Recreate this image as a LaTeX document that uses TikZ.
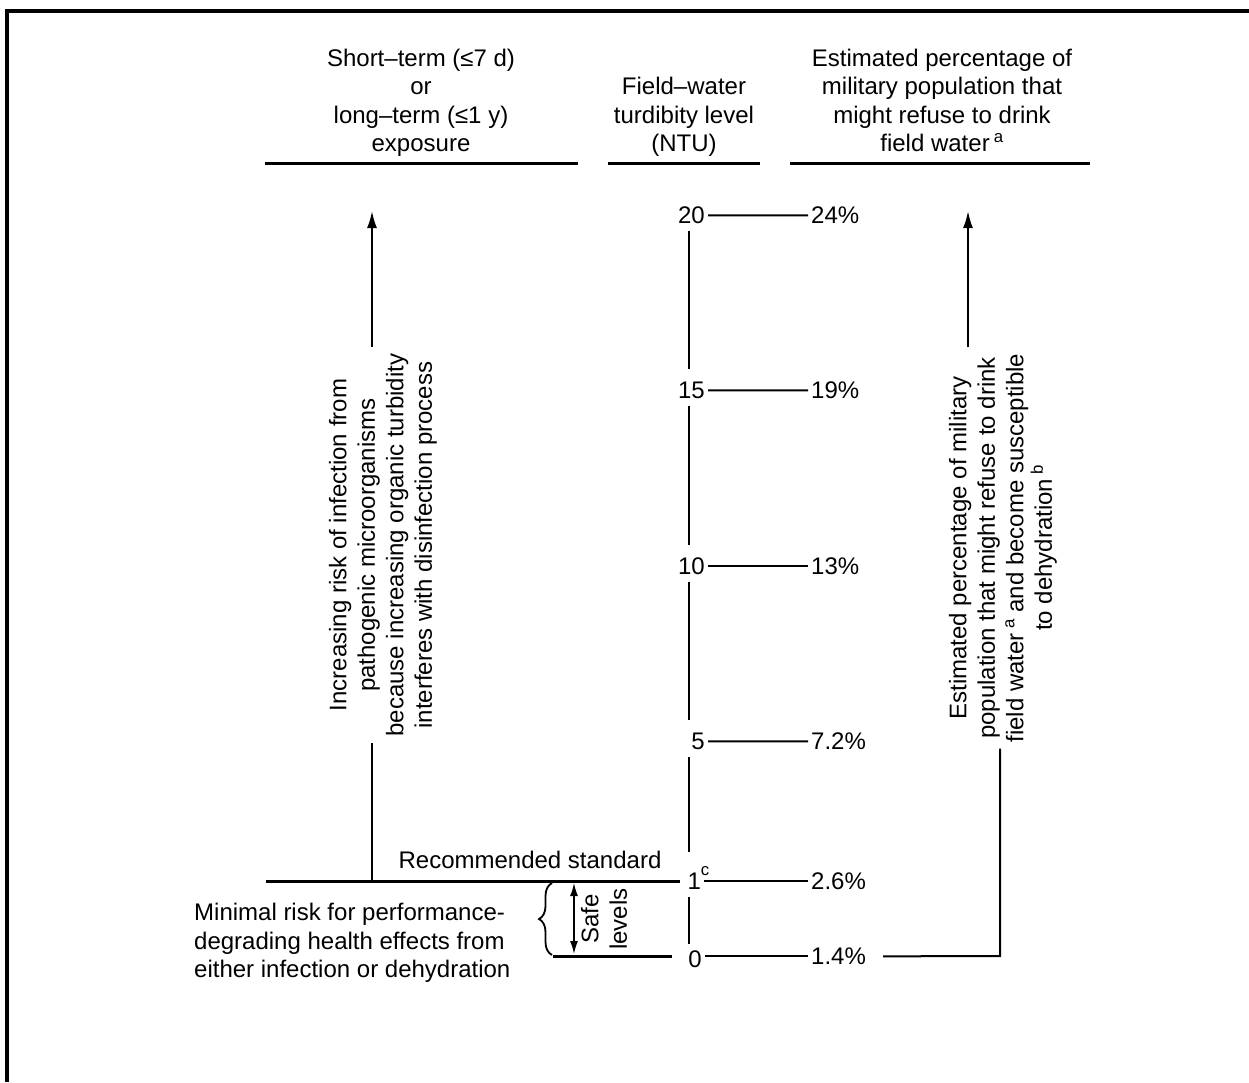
\documentclass[tikz,border=0pt]{standalone}
\usepackage{fontspec}
\setmainfont{Liberation Sans}
\usetikzlibrary{arrows.meta,decorations.pathreplacing,calc}

\begin{document}
\begin{tikzpicture}[x=1pt,y=-1pt,
		every node/.style={inner sep=0pt,font=\fontsize{24}{28.5}\selectfont},
		hdr/.style={align=center,anchor=south,text depth=0pt},
		num/.style={anchor=base east,inner sep=3pt},
		pct/.style={anchor=base west,inner sep=3pt},
		vtxt/.style={align=center,rotate=90,inner sep=6pt},
		line/.style={line width=2pt},
		rule/.style={line width=3pt},
		tip/.style={-{Latex[length=17pt,width=10pt]}}]
		\useasboundingbox (0,0) rectangle (1249,1082);
		\draw[line width=4pt] (7,1082) -- (7,11) -- (1249,11);
		
		\node[hdr] (hexpo) at (421,152) {Short–term (≤7 d)\\or\\long–term (≤1 y)\\exposure};
		\node[hdr] (hntu) at (684,152) {Field–water\\turdibity level\\(NTU)};
		\node[hdr] (hpct) at (942,152) {Estimated percentage of\\military population that\\might refuse to drink\\field water\,\textsuperscript{a}};
		\draw[rule] (265,163) -- (578,163);
		\draw[rule] (608,163) -- (760,163);
		\draw[rule] (790,163) -- (1090,163);
		
		\foreach \v/\y/\p in {20/215/24, 15/390/19, 10/566/13, 5/741/7.2}{
			\node[num] (n\v) at (708,\y+8.6) {\v};
			\node[pct] (p\v) at (808,\y+8.6) {\p\%};
			\draw[line] (n\v.east) -- (p\v.west);
		}
		\node[num] (n1) at (713,889.6) {1\raisebox{5pt}{\textsuperscript{c}}};
		\node[pct] (p1) at (808,889.6) {2.6\%};
		\draw[line] ([xshift=-9pt]n1.east |- p1.west) -- (p1.west);
		\node[num] (n0) at (705,967.6) {0};
		\node[pct] (p0) at (808,964.6) {1.4\%};
		\draw[line] (n0.east |- p0.west) -- (p0.west);
		
		\coordinate (ax) at (689,0);
		\foreach \a/\b/\g in {20/15/30, 15/10/30, 10/5/30, 5/1/38, 1/0/24}
			\draw[line] ($(ax |- n\a.base)+(0,7)$) -- ($(ax |- n\b.base)+(0,-\g)$);
		
		\node[vtxt] (ltxt) at (383,545) {Increasing risk of infection from\\pathogenic microorganisms\\because increasing organic turbidity\\interferes with disinfection process};
		\coordinate (lbase) at (372,881);
		\coordinate (ltip) at (372,211);
		\draw[line] (lbase) -- (lbase |- ltxt.west);
		\draw[line,tip] (ltip |- ltxt.east) -- (ltip);
		
		\node[vtxt] (rtxt) at (1003,548) {Estimated percentage of military\\population that might refuse to drink\\field water\,\textsuperscript{a} and become susceptible\\to dehydration\,\textsuperscript{b}};
		\coordinate (rc) at (1000,956);
		\coordinate (rtip) at (968,211);
		\draw[line] ([xshift=14pt]p0.east) -- (rc) -- (rc |- rtxt.west);
		\draw[line,tip] (rtip |- rtxt.east) -- (rtip);
		
		\node[anchor=base] (rec) at (530,868) {Recommended standard};
		\coordinate (stdl) at (266,881);
		\coordinate (stdr) at (680,881);
		\draw[rule] (stdl) -- (stdr);
		\coordinate (zl) at (553,956);
		\coordinate (zr) at (672,956);
		\draw[rule] (zl) -- (zr);
		
		\draw[line width=1.8pt,decorate,decoration={brace,amplitude=13pt}] (552,955) -- (552,883);
		\draw[line width=1.5pt,{Latex[length=13pt,width=8pt]}-{Latex[length=13pt,width=8pt]}] (574,883) -- (574,954);
		\node[align=center,rotate=90] (safe) at (604,919) {Safe\\levels};
		
		\node[align=left,anchor=south west,text depth=0pt] (minrisk) at (194,978) {Minimal risk for performance-\\degrading health effects from\\either infection or dehydration};
	\end{tikzpicture}
\end{document}
